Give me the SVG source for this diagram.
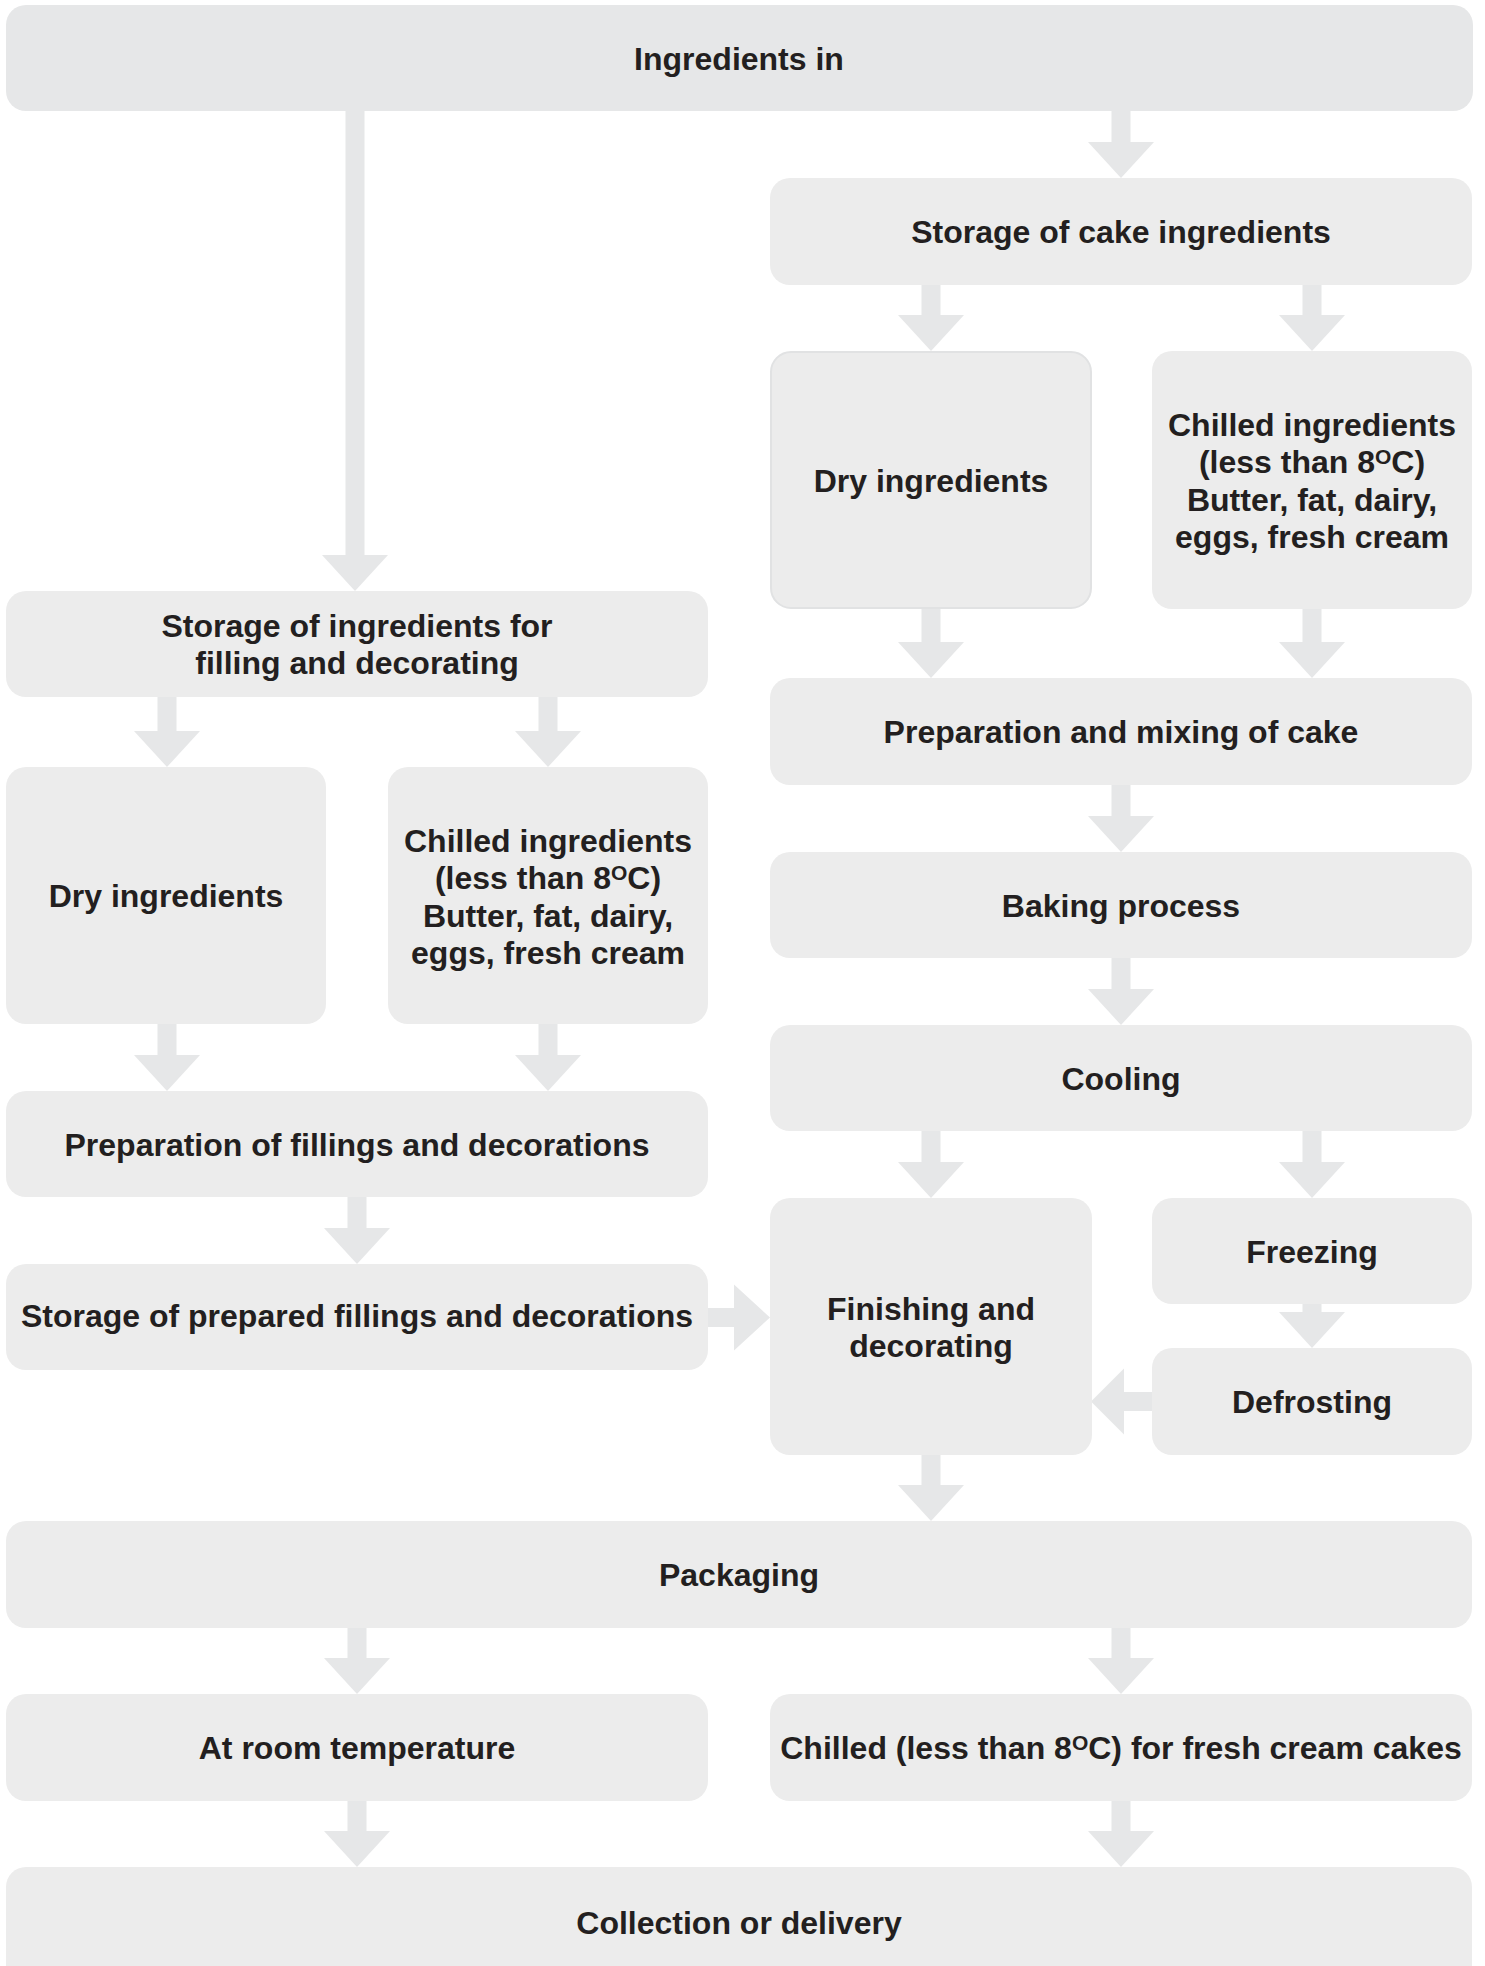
<svg xmlns="http://www.w3.org/2000/svg" width="1485" height="1966" viewBox="0 0 1485 1966">
<style>
.box{fill:#ececec;}
.top{fill:#e6e7e8;}
.bord{stroke:#e1e2e3;stroke-width:2;}
.arr{fill:#e6e7e8;}
text{font-family:"Liberation Sans",Arial,Helvetica,sans-serif;font-weight:bold;font-size:32px;fill:#231f20;text-anchor:middle;}
.sup{font-size:21px;}
</style>
<rect width="1485" height="1966" fill="#ffffff"/>
<g id="connectors">
<path class="arr" d="M1111.5 111 H1130.5 V142 H1154 L1121 178 L1088 142 H1111.5 Z"/>
<path class="arr" d="M345.5 111 H364.5 V555 H388 L355 591 L322 555 H345.5 Z"/>
<path class="arr" d="M921.5 285 H940.5 V315 H964 L931 351 L898 315 H921.5 Z"/>
<path class="arr" d="M1302.5 285 H1321.5 V315 H1345 L1312 351 L1279 315 H1302.5 Z"/>
<path class="arr" d="M921.5 609 H940.5 V642 H964 L931 678 L898 642 H921.5 Z"/>
<path class="arr" d="M1302.5 609 H1321.5 V642 H1345 L1312 678 L1279 642 H1302.5 Z"/>
<path class="arr" d="M1111.5 785 H1130.5 V816 H1154 L1121 852 L1088 816 H1111.5 Z"/>
<path class="arr" d="M1111.5 958 H1130.5 V989 H1154 L1121 1025 L1088 989 H1111.5 Z"/>
<path class="arr" d="M921.5 1131 H940.5 V1162 H964 L931 1198 L898 1162 H921.5 Z"/>
<path class="arr" d="M1302.5 1131 H1321.5 V1162 H1345 L1312 1198 L1279 1162 H1302.5 Z"/>
<path class="arr" d="M1302.5 1304 H1321.5 V1312 H1345 L1312 1348 L1279 1312 H1302.5 Z"/>
<path class="arr" d="M1152 1392 V1411 H1124 V1434.5 L1091 1401.5 L1124 1368.5 V1392 Z"/>
<path class="arr" d="M157.5 697 H176.5 V731 H200 L167 767 L134 731 H157.5 Z"/>
<path class="arr" d="M538.5 697 H557.5 V731 H581 L548 767 L515 731 H538.5 Z"/>
<path class="arr" d="M157.5 1024 H176.5 V1055 H200 L167 1091 L134 1055 H157.5 Z"/>
<path class="arr" d="M538.5 1024 H557.5 V1055 H581 L548 1091 L515 1055 H538.5 Z"/>
<path class="arr" d="M347.5 1197 H366.5 V1228 H390 L357 1264 L324 1228 H347.5 Z"/>
<path class="arr" d="M708 1308 H734 V1284.5 L770 1317.5 L734 1350.5 V1327 H708 Z"/>
<path class="arr" d="M921.5 1455 H940.5 V1485 H964 L931 1521 L898 1485 H921.5 Z"/>
<path class="arr" d="M347.5 1628 H366.5 V1658 H390 L357 1694 L324 1658 H347.5 Z"/>
<path class="arr" d="M1111.5 1628 H1130.5 V1658 H1154 L1121 1694 L1088 1658 H1111.5 Z"/>
<path class="arr" d="M347.5 1801 H366.5 V1831 H390 L357 1867 L324 1831 H347.5 Z"/>
<path class="arr" d="M1111.5 1801 H1130.5 V1831 H1154 L1121 1867 L1088 1831 H1111.5 Z"/>
</g>
<g id="n-ingredients-in"><rect class="top" x="6" y="5" width="1467" height="106" rx="20"/><text x="739" y="70">Ingredients in</text></g>
<g id="n-storage-cake"><rect class="box" x="770" y="178" width="702" height="107" rx="20"/><text x="1121" y="243">Storage of cake ingredients</text></g>
<g id="n-dry-cake"><rect class="box bord" x="771" y="352" width="320" height="256" rx="20"/><text x="931" y="491.5">Dry ingredients</text></g>
<g id="n-chilled-cake"><rect class="box" x="1152" y="351" width="320" height="258" rx="20"/><text x="1312" y="436">Chilled ingredients</text><text x="1312" y="473.3">(less than 8<tspan class="sup" dy="-9">O</tspan><tspan dy="9">C)</tspan></text><text x="1312" y="510.6">Butter, fat, dairy,</text><text x="1312" y="548">eggs, fresh cream</text></g>
<g id="n-prep-mix"><rect class="box" x="770" y="678" width="702" height="107" rx="20"/><text x="1121" y="743">Preparation and mixing of cake</text></g>
<g id="n-baking"><rect class="box" x="770" y="852" width="702" height="106" rx="20"/><text x="1121" y="916.5">Baking process</text></g>
<g id="n-cooling"><rect class="box" x="770" y="1025" width="702" height="106" rx="20"/><text x="1121" y="1089.5">Cooling</text></g>
<g id="n-finishing"><rect class="box" x="770" y="1198" width="322" height="257" rx="20"/><text x="931" y="1320">Finishing and</text><text x="931" y="1357">decorating</text></g>
<g id="n-freezing"><rect class="box" x="1152" y="1198" width="320" height="106" rx="20"/><text x="1312" y="1262.5">Freezing</text></g>
<g id="n-defrosting"><rect class="box" x="1152" y="1348" width="320" height="107" rx="20"/><text x="1312" y="1413">Defrosting</text></g>
<g id="n-storage-filling"><rect class="box" x="6" y="591" width="702" height="106" rx="20"/><text x="357" y="636.5">Storage of ingredients for</text><text x="357" y="674">filling and decorating</text></g>
<g id="n-dry-filling"><rect class="box" x="6" y="767" width="320" height="257" rx="20"/><text x="166" y="907">Dry ingredients</text></g>
<g id="n-chilled-filling"><rect class="box" x="388" y="767" width="320" height="257" rx="20"/><text x="548" y="851.5">Chilled ingredients</text><text x="548" y="889">(less than 8<tspan class="sup" dy="-9">O</tspan><tspan dy="9">C)</tspan></text><text x="548" y="926.5">Butter, fat, dairy,</text><text x="548" y="964">eggs, fresh cream</text></g>
<g id="n-prep-fillings"><rect class="box" x="6" y="1091" width="702" height="106" rx="20"/><text x="357" y="1155.5">Preparation of fillings and decorations</text></g>
<g id="n-storage-prepared"><rect class="box" x="6" y="1264" width="702" height="106" rx="20"/><text x="357" y="1327">Storage of prepared fillings and decorations</text></g>
<g id="n-packaging"><rect class="box" x="6" y="1521" width="1466" height="107" rx="20"/><text x="739" y="1586">Packaging</text></g>
<g id="n-room-temp"><rect class="box" x="6" y="1694" width="702" height="107" rx="20"/><text x="357" y="1759">At room temperature</text></g>
<g id="n-chilled-fresh"><rect class="box" x="770" y="1694" width="702" height="107" rx="20"/><text x="1121" y="1759">Chilled (less than 8<tspan class="sup" dy="-9">O</tspan><tspan dy="9">C) for fresh cream cakes</tspan></text></g>
<g id="n-collection"><rect class="box" x="6" y="1867" width="1466" height="130" rx="20"/><text x="739" y="1934">Collection or delivery</text></g>
</svg>
